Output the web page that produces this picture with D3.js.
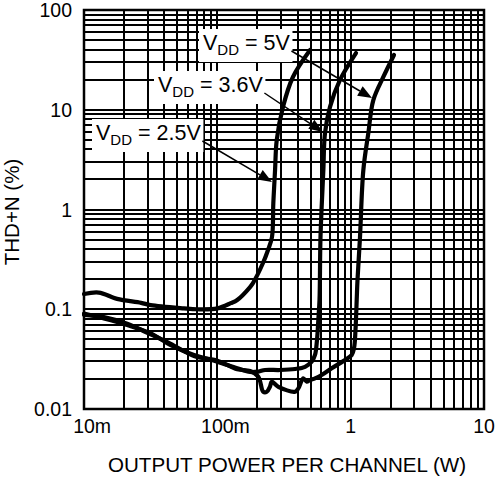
<!DOCTYPE html>
<html>
<head>
<meta charset="utf-8">
<script src="https://cdn.jsdelivr.net/npm/d3@7"></script>
<style>
  body { margin: 0; background: #fff; }
  text { font-family: "Liberation Sans", Arial, sans-serif; fill: #000; }
</style>
</head>
<body>
<div id="grafico"></div>
<script>
// tick labels
const xTicks = [0.01, 0.1, 1, 10];
const xTickLabels = ["10m", "100m", "1", "10"];
const yTicks = [0.01, 0.1, 1, 10, 100];
const yTickLabels = ["0.01", "0.1", "1", "10", "100"];

// VDD = 2.5V
const power25 = [0.01, 0.0129, 0.0177, 0.0268, 0.0316, 0.0562, 0.0704, 0.1, 0.126, 0.141, 0.176, 0.185, 0.22, 0.24, 0.257, 0.263, 0.271, 0.279, 0.311, 0.369, 0.496];
const thd25 = [0.142, 0.147, 0.127, 0.116, 0.110, 0.102, 0.100, 0.102, 0.115, 0.124, 0.167, 0.183, 0.291, 0.393, 0.53, 1.16, 2.49, 4.97, 10.7, 21.3, 39.7];

// VDD = 3.6V
const power36 = [0.01, 0.0141, 0.0211, 0.0316, 0.0447, 0.0668, 0.1, 0.141, 0.176, 0.203, 0.228, 0.295, 0.383, 0.455, 0.51, 0.54, 0.559, 0.572, 0.584, 0.594, 0.624, 0.642, 0.70, 0.832, 1.096];
const thd36 = [0.0906, 0.081, 0.0695, 0.0574, 0.0438, 0.0348, 0.0298, 0.0256, 0.0235, 0.0237, 0.0246, 0.0246, 0.0252, 0.0265, 0.0298, 0.0348, 0.0492, 0.078, 0.124, 0.53, 2.49, 5.85, 10.7, 19.9, 37];

// VDD = 5V
const power50 = [0.01, 0.0141, 0.0211, 0.0316, 0.0447, 0.0668, 0.1, 0.141, 0.176, 0.203, 0.221, 0.235, 0.248, 0.256, 0.287, 0.383, 0.405, 0.441, 0.468, 0.496, 0.54, 0.606, 0.721, 0.907, 1.018, 1.06, 1.087, 1.11, 1.125, 1.175, 1.245, 1.357, 1.479, 1.758, 2.113];
const thd50 = [0.088, 0.0835, 0.0715, 0.056, 0.045, 0.034, 0.0305, 0.025, 0.024, 0.0211, 0.0149, 0.0149, 0.0167, 0.0188, 0.0167, 0.0149, 0.0161, 0.0203, 0.0188, 0.0195, 0.0203, 0.0219, 0.0256, 0.031, 0.0348, 0.0409, 0.062, 0.124, 0.196, 0.53, 2.49, 5.85, 12.5, 21.3, 35.4];

// series labels and where their arrows point (data units)
const seriesNames = ["2.5V", "3.6V", "5V"];
const arrowTipPower = [0.257, 0.62, 1.445];
const arrowTipThd = [1.89, 5.98, 13.1];

const width = 496;
const height = 480;
const plotLeft = 84, plotRight = 484, plotTop = 10, plotBottom = 409;

const svg = d3.select('#grafico')
    .append('svg')
    .attr('width', width)
    .attr('height', height);

const xScale = d3.scaleLog().domain([0.01, 10]).range([plotLeft, plotRight]);
const yScale = d3.scaleLog().domain([0.01, 100]).range([plotBottom, plotTop]);

// grid lines, every 1..9 of each decade
const xGrid = [];
for (let d = 0.01; d < 10; d *= 10) for (let k = 1; k < 10; k++) xGrid.push(d * k);
const yGrid = [];
for (let d = 0.01; d < 100; d *= 10) for (let k = 1; k < 10; k++) yGrid.push(d * k);

const grid = svg.append('g')
    .attr('stroke', '#000')
    .attr('stroke-width', 2)
    .attr('shape-rendering', 'crispEdges');
grid.selectAll('.gx').data(xGrid).enter().append('line')
    .attr('x1', d => xScale(d)).attr('x2', d => xScale(d))
    .attr('y1', plotTop).attr('y2', plotBottom);
grid.selectAll('.gy').data(yGrid).enter().append('line')
    .attr('y1', d => yScale(d)).attr('y2', d => yScale(d))
    .attr('x1', plotLeft).attr('x2', plotRight);

svg.append('rect')
    .attr('x', plotLeft).attr('y', plotTop)
    .attr('width', plotRight - plotLeft).attr('height', plotBottom - plotTop)
    .attr('fill', 'none').attr('stroke', '#000').attr('stroke-width', 2.5);

// y tick labels
svg.selectAll('.ylab').data(yTicks).enter().append('text')
    .attr('x', 72)
    .attr('y', d => yScale(d) + 7)
    .attr('text-anchor', 'end')
    .attr('font-size', 19.5)
    .text((d, i) => yTickLabels[i]);

// x tick labels - numeric part centred on the tick, unit letter after it
xTicks.forEach((t, i) => {
    const m = xTickLabels[i].match(/^([\d.]+)(.*)$/);
    const txt = svg.append('text')
        .attr('y', 433)
        .attr('font-size', 19.5);
    const num = txt.append('tspan').text(m[1]);
    txt.append('tspan').text(m[2]);
    const w = num.node().getComputedTextLength();
    txt.attr('x', xScale(t) - w / 2);
});

svg.append('text')
    .attr('x', 287).attr('y', 472)
    .attr('text-anchor', 'middle')
    .attr('font-size', 20.6)
    .text('OUTPUT POWER PER CHANNEL (W)');

svg.append('text')
    .attr('transform', 'translate(19,212) rotate(-90)')
    .attr('text-anchor', 'middle')
    .attr('font-size', 20.5)
    .text('THD+N (%)');

// label boxes
const labelX = [96, 158, 203];
const labelY = [140, 92, 50];
const labelEnd = [];
seriesNames.forEach((name, i) => {
    const g = svg.append('g');
    const box = g.append('rect').attr('fill', '#fff');
    const txt = g.append('text')
        .attr('x', labelX[i]).attr('y', labelY[i])
        .attr('font-size', 21.5);
    txt.append('tspan').text('V');
    txt.append('tspan').attr('font-size', 15).attr('dy', 5).text('DD');
    txt.append('tspan').attr('dy', -5).text(' = ' + name);
    const bb = txt.node().getBBox();
    box.attr('x', bb.x - 4).attr('y', labelY[i] - 21)
        .attr('width', bb.width + 6).attr('height', 33);
    labelEnd.push([bb.x + bb.width + 1, labelY[i] + 1]);
});

// curves
const line = d3.line()
    .x(d => xScale(d[0]))
    .y(d => yScale(d[1]))
    .curve(d3.curveCatmullRom.alpha(0.5));

[[power25, thd25], [power36, thd36], [power50, thd50]].forEach(([p, t]) => {
    svg.append('path')
        .datum(p.map((v, i) => [v, t[i]]))
        .attr('d', line)
        .attr('fill', 'none')
        .attr('stroke', '#000')
        .attr('stroke-width', 4.2)
        .attr('stroke-linejoin', 'round')
        .attr('stroke-linecap', 'round');
});

// arrows
seriesNames.forEach((name, i) => {
    const [sx, sy] = labelEnd[i];
    const tx = xScale(arrowTipPower[i]);
    const ty = yScale(arrowTipThd[i]);
    const ang = Math.atan2(ty - sy, tx - sx);
    const len = 14, half = 5.5;
    const bx = tx - len * Math.cos(ang), by = ty - len * Math.sin(ang);
    svg.append('line')
        .attr('x1', sx).attr('y1', sy).attr('x2', bx).attr('y2', by)
        .attr('stroke', '#000').attr('stroke-width', 1.5);
    svg.append('path')
        .attr('d', `M${tx},${ty}L${bx - half * Math.sin(ang)},${by + half * Math.cos(ang)}L${bx + half * Math.sin(ang)},${by - half * Math.cos(ang)}Z`)
        .attr('fill', '#000');
});
</script>
</body>
</html>
